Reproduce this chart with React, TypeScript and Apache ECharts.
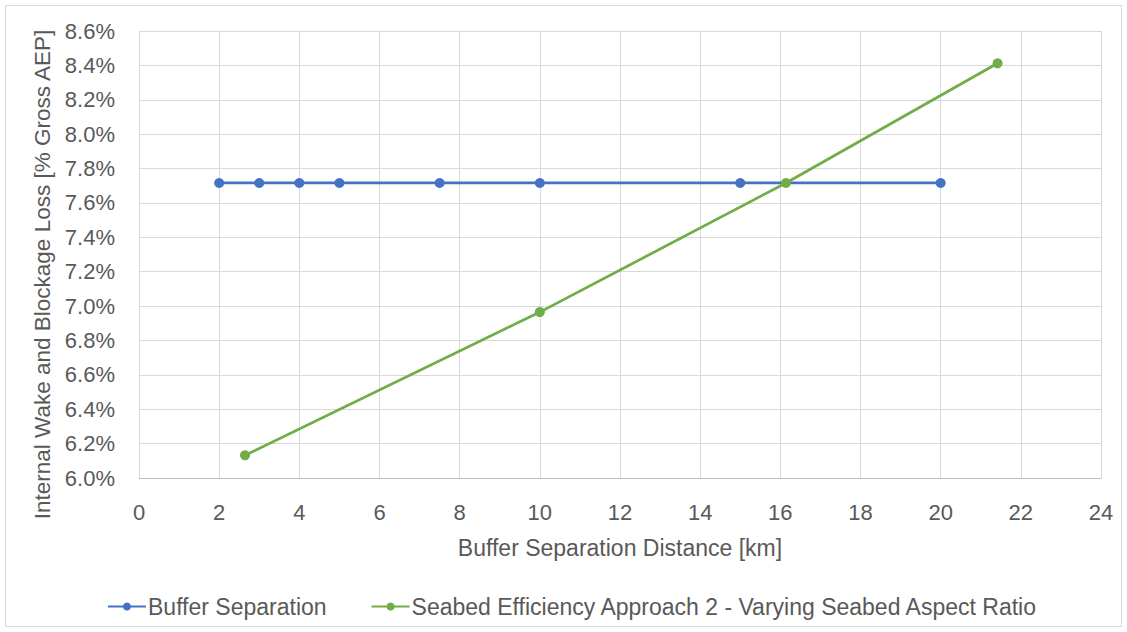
import React, { useEffect, useRef } from "react";
import * as echarts from "echarts";

const bufferX = [2, 3, 4, 5, 7.5, 10, 15, 20];
const bufferY = [7.716, 7.716, 7.716, 7.716, 7.716, 7.716, 7.716, 7.716];
const seabedX = [2.645, 10.0, 16.14, 21.42];
const seabedY = [6.132, 6.965, 7.716, 8.412];
const seriesNames = [
  "Buffer Separation",
  "Seabed Efficiency Approach 2 - Varying Seabed Aspect Ratio",
];

const FONT = '"Liberation Sans", sans-serif';
const TXT = "#595959";

export default function App() {
  const ref = useRef<HTMLDivElement>(null);
  useEffect(() => {
    document.body.style.margin = "0";
    const chart = echarts.init(ref.current!, undefined, { renderer: "svg" });
    chart.setOption({
      animation: false,
      backgroundColor: "#ffffff",
      textStyle: { fontFamily: FONT },
      graphic: [
        {
          type: "rect",
          shape: { x: 5.5, y: 5.5, width: 1116, height: 621 },
          style: { fill: "none", stroke: "#D9D9D9", lineWidth: 1 },
          silent: true,
        },
      ],
      grid: { left: 139, right: 26, top: 31, bottom: 154, containLabel: false },
      xAxis: {
        type: "value",
        min: 0,
        max: 24,
        interval: 2,
        name: "Buffer Separation Distance [km]",
        nameLocation: "middle",
        nameGap: 58,
        nameTextStyle: { fontSize: 23, color: TXT, fontFamily: FONT },
        axisLine: { show: true, lineStyle: { color: "#BFBFBF", width: 1 } },
        axisTick: { show: false },
        axisLabel: { fontSize: 22, color: TXT, margin: 23, fontFamily: FONT },
        splitLine: { show: true, lineStyle: { color: "#D9D9D9", width: 1 } },
      },
      yAxis: {
        type: "value",
        min: 6.0,
        max: 8.6,
        interval: 0.2,
        name: "Internal Wake and Blockage Loss [% Gross AEP]",
        nameLocation: "middle",
        nameGap: 84,
        nameTextStyle: {
          fontSize: 22.5,
          color: TXT,
          fontFamily: FONT,
          padding: [0, 40, 0, 0],
        },
        axisLine: { show: false },
        axisTick: { show: false },
        axisLabel: {
          fontSize: 22,
          color: TXT,
          margin: 24,
          fontFamily: FONT,
          formatter: (v: number) => v.toFixed(1) + "%",
        },
        splitLine: { show: true, lineStyle: { color: "#D9D9D9", width: 1 } },
      },
      legend: {
        bottom: 9,
        left: 102,
        itemGap: 44,
        itemWidth: 38,
        itemHeight: 10,
        textStyle: { fontSize: 23, color: TXT, fontFamily: FONT, padding: [0, 0, 0, -3] },
        data: seriesNames,
      },
      series: [
        {
          name: seriesNames[0],
          type: "line",
          data: bufferX.map((x, i) => [x, bufferY[i]]),
          symbol: "circle",
          symbolSize: 10,
          lineStyle: { color: "#4472C4", width: 2.75 },
          itemStyle: { color: "#4472C4" },
        },
        {
          name: seriesNames[1],
          type: "line",
          data: seabedX.map((x, i) => [x, seabedY[i]]),
          symbol: "circle",
          symbolSize: 10,
          lineStyle: { color: "#70AD47", width: 2.75 },
          itemStyle: { color: "#70AD47" },
        },
      ],
    });
    return () => chart.dispose();
  }, []);
  return <div ref={ref} style={{ width: 1127, height: 632 }} />;
}
